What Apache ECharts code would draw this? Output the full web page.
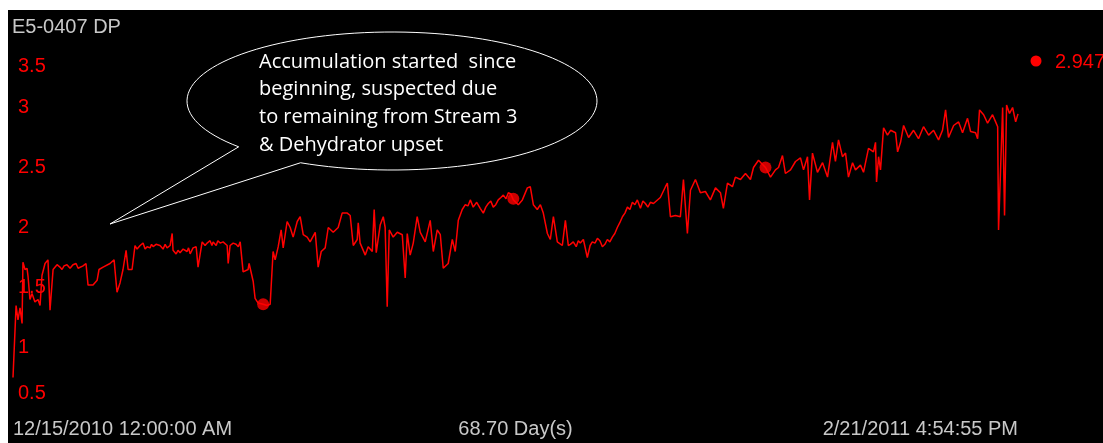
<!DOCTYPE html>
<html><head><meta charset="utf-8">
<script src="https://cdn.jsdelivr.net/npm/echarts@6/dist/echarts.min.js"></script>
<style>html,body{margin:0;padding:0;background:#fff;}#chart{width:1103px;height:443px;}</style>
</head><body><div id="chart"></div>
<script>
const tagName = 'E5-0407 DP';
const xTickLabels = ['12/15/2010 12:00:00 AM', '2/21/2011 4:54:55 PM'];
const spanLabel = '68.70 Day(s)';
const spanDays = 68.70;
const yMin = 0.5, yMax = 3.5, yStep = 0.5;
const currentValue = '2.947';
const noteLines = ['Accumulation started  since', 'beginning, suspected due', 'to remaining from Stream 3', '& Dehydrator upset'];

// elapsed days since 12/15/2010 00:00
const times = [
0.00,0.21,0.34,0.48,0.62,0.68,0.82,0.96,1.03,1.16,1.30,1.50,1.71,1.85,1.98,2.19,2.39,2.53,2.74,2.87,
3.01,3.21,3.35,3.49,3.69,3.90,4.10,4.31,4.45,4.58,4.79,4.99,5.13,5.47,5.75,5.88,6.16,6.63,6.91,7.11,
7.32,7.52,7.73,7.87,8.14,8.34,8.48,8.69,8.89,9.17,9.37,9.58,9.78,10.05,10.26,10.53,10.74,10.88,10.94,11.15,
11.42,11.63,11.90,12.11,12.31,12.52,12.65,12.93,13.13,13.27,13.47,13.68,13.89,14.16,14.36,14.64,14.71,14.84,15.05,15.25,
15.53,15.66,15.73,16.07,16.14,16.21,16.42,16.55,16.76,17.10,17.37,17.58,17.78,17.92,18.13,18.33,18.47,18.74,18.95,19.15,
19.43,19.63,19.84,20.11,20.31,20.66,20.86,21.07,21.34,21.55,21.89,22.23,22.50,22.85,23.05,23.26,23.53,23.60,23.73,24.08,
24.28,24.56,24.69,24.83,25.10,25.31,25.44,25.58,25.72,25.99,26.27,26.61,26.81,26.95,27.15,27.36,27.63,27.84,28.18,28.52,
28.73,29.00,29.21,29.41,29.75,30.03,30.23,30.44,30.71,30.92,31.26,31.46,31.94,32.15,32.49,32.83,33.17,33.52,33.86,34.20,
34.54,34.82,35.16,35.36,35.57,35.84,36.05,36.25,36.53,36.73,36.94,37.21,37.55,37.76,37.96,38.30,38.78,38.99,39.26,39.60,
39.95,40.29,40.63,40.97,41.31,41.66,42.00,42.34,42.68,42.89,43.23,43.57,43.78,44.25,44.60,44.73,44.94,45.28,45.62,45.83,
46.10,46.31,46.65,46.99,47.33,47.67,48.02,48.36,48.56,48.84,49.18,49.38,49.73,50.07,50.41,50.62,50.96,51.44,51.78,52.12,
52.33,52.60,52.80,53.15,53.49,53.83,54.04,54.31,54.45,54.65,54.99,55.34,55.68,56.02,56.22,56.43,56.70,56.91,57.11,57.39,
57.59,57.93,58.14,58.48,58.82,58.96,59.03,59.17,59.30,59.51,59.78,59.99,60.33,60.47,60.67,60.88,61.22,61.56,61.90,62.24,
62.59,62.93,63.27,63.54,63.75,63.95,64.30,64.64,64.91,65.25,65.46,65.80,65.94,66.07,66.35,66.62,66.96,67.17,67.31,67.37,
67.65,67.78,67.92,68.12,68.33,68.54,68.70
];
const dpValues = [
0.75,1.35,1.23,1.33,1.20,1.71,1.65,1.66,1.59,1.40,1.45,1.38,1.40,1.35,1.60,1.70,1.73,1.31,1.65,1.66,
1.69,1.67,1.65,1.68,1.69,1.66,1.69,1.70,1.66,1.67,1.68,1.70,1.52,1.52,1.56,1.65,1.67,1.70,1.73,1.46,
1.54,1.65,1.81,1.65,1.65,1.85,1.82,1.85,1.87,1.84,1.83,1.84,1.86,1.85,1.82,1.83,1.85,1.95,1.81,1.78,
1.79,1.82,1.80,1.78,1.83,1.84,1.67,1.88,1.85,1.87,1.89,1.88,1.85,1.87,1.88,1.85,1.70,1.85,1.87,1.86,
1.88,1.87,1.63,1.65,1.70,1.69,1.55,1.41,1.37,1.36,1.35,1.36,1.80,1.73,1.84,1.98,1.83,2.05,2.00,1.92,
2.05,2.09,1.94,1.92,1.88,1.96,1.67,1.80,1.83,2.00,1.96,2.00,2.12,2.12,2.10,1.85,1.90,2.04,1.87,1.77,
1.84,1.80,2.15,1.79,2.02,2.09,2.00,1.34,1.98,1.92,1.96,1.94,1.58,1.95,1.77,1.87,2.09,1.96,1.88,2.06,
1.80,1.98,1.94,1.66,1.70,1.90,1.80,2.06,2.15,2.19,2.23,2.17,2.16,2.12,2.20,2.17,2.23,2.27,2.29,2.23,
2.19,2.23,2.33,2.34,2.19,2.15,2.19,2.12,1.95,1.90,2.09,1.88,1.85,2.06,1.85,1.88,1.87,1.90,1.75,1.88,
1.91,1.84,1.90,1.92,2.00,2.09,2.17,2.21,2.23,2.16,2.20,2.21,2.20,2.25,2.34,2.37,2.09,2.10,2.09,2.40,
1.95,2.31,2.40,2.29,2.30,2.23,2.33,2.29,2.16,2.37,2.34,2.42,2.40,2.45,2.40,2.50,2.56,2.50,2.42,2.48,
2.50,2.60,2.45,2.48,2.55,2.58,2.48,2.59,2.23,2.62,2.46,2.54,2.42,2.71,2.55,2.73,2.59,2.62,2.42,2.54,
2.48,2.52,2.46,2.66,2.63,2.71,2.38,2.59,2.48,2.83,2.77,2.81,2.79,2.63,2.71,2.85,2.75,2.81,2.74,2.84,
2.77,2.81,2.73,2.81,2.98,2.75,2.85,2.88,2.79,2.91,2.80,2.79,2.74,2.98,2.94,2.87,2.94,2.88,2.84,1.98,
3.00,2.10,3.02,2.95,3.00,2.88,2.947
];
// extra readings where the trace shows fine jitter
const detailTimes = [
31.10,31.70,32.32,32.66,33.00,33.35,33.70,34.03,
38.10,38.50,38.64,39.45,39.78,40.12,40.46,40.80,41.14,
41.48,41.83,42.17,42.51,43.06,43.40,
9.03,9.47,10.40,11.28,12.00,13.60,14.00,15.40
];
const detailValues = [
2.18,2.21,2.17,2.22,2.19,2.25,2.24,2.28,
1.86,1.84,1.89,1.85,1.87,1.89,1.86,1.88,1.95,
2.04,2.12,2.15,2.19,2.22,2.17,
1.82,1.86,1.86,1.81,1.83,1.85,1.89,1.84
];
const markerTimes = [17.10, 34.20, 51.44];
const markerValues = [1.36, 2.24, 2.50];

const RED = '#ff0000', GREY = '#c8c8c8';
const labelFont = 'Liberation Sans';

const lineData = times.map((t, i) => [t, dpValues[i]])
  .concat(detailTimes.map((t, i) => [t, detailValues[i]]))
  .sort((a, b) => a[0] - b[0]);

// speech-bubble outline: ellipse arc with a gap, joined to a pointer tip
function calloutPoints(cx, cy, rx, ry, fromDeg, toDeg, tip) {
  const pts = [];
  const steps = 120;
  for (let i = 0; i <= steps; i++) {
    const a = (fromDeg + (toDeg - fromDeg) * i / steps) * Math.PI / 180;
    pts.push([cx + rx * Math.cos(a), cy + ry * Math.sin(a)]);
  }
  pts.push(tip);
  return pts;
}

const chart = echarts.init(document.getElementById('chart'), null, {renderer: 'canvas'});
chart.setOption({
  backgroundColor: '#ffffff',
  animation: false,
  grid: {left: 13, right: 85, top: 47.5, bottom: 35.5, containLabel: false, outerBoundsMode: 'none'},
  xAxis: {
    type: 'value', min: 0, max: spanDays,
    axisLine: {show: false}, axisTick: {show: false}, splitLine: {show: false},
    axisLabel: {
      customValues: [0, spanDays],
      formatter: v => (v < spanDays / 2 ? xTickLabels[0] : xTickLabels[1]),
      alignMinLabel: 'left', alignMaxLabel: 'right',
      color: GREY, fontSize: 20, fontFamily: labelFont, margin: 12
    },
    name: spanLabel, nameLocation: 'middle', nameGap: 12, nameMoveOverlap: false,
    nameTextStyle: {color: GREY, fontSize: 20, fontFamily: labelFont}
  },
  yAxis: {
    type: 'value', min: yMin, max: yMax, interval: yStep,
    axisLine: {show: false}, axisTick: {show: false}, splitLine: {show: false},
    axisLabel: {
      inside: true, margin: 5, color: RED, fontSize: 20, fontFamily: labelFont,
      formatter: v => (v === yMax ? '{t|' + v + '}' : v === yMin ? '{b|' + v + '}' : String(v)),
      rich: {
        t: {padding: [37, 0, 0, 0], color: RED, fontSize: 20, fontFamily: labelFont},
        b: {padding: [0, 0, 29, 0], color: RED, fontSize: 20, fontFamily: labelFont}
      }
    }
  },
  series: [
    {
      type: 'line', data: lineData,
      showSymbol: false, lineStyle: {color: RED, width: 1.5}, itemStyle: {color: RED}, z: 2
    },
    {
      type: 'scatter', data: markerTimes.map((t, i) => [t, markerValues[i]]),
      symbolSize: 12, itemStyle: {color: RED}, z: 3
    }
  ],
  graphic: [
    {type: 'rect', z: -10, silent: true, shape: {x: 8, y: 10, width: 1095, height: 433}, style: {fill: '#000'}},
    {type: 'text', x: 12, y: 17, style: {text: tagName, fill: GREY, font: '20px "Liberation Sans"'}},
    {type: 'polygon', shape: {points: calloutPoints(392, 101, 205, 69, 116.5, -221.6, [110, 224])},
     style: {fill: 'none', stroke: '#ffffff', lineWidth: 1}},
    {type: 'text', x: 259, y: 48, style: {text: noteLines.join('\n'), fill: '#ffffff', font: '20px "Open Sans"', lineHeight: 27.7}},
    {type: 'circle', shape: {cx: 1036, cy: 61, r: 5.5}, style: {fill: RED}},
    {type: 'text', x: 1055, y: 62, style: {text: currentValue, fill: RED, font: '20px "Liberation Sans"', verticalAlign: 'middle'}}
  ]
});
</script></body></html>
